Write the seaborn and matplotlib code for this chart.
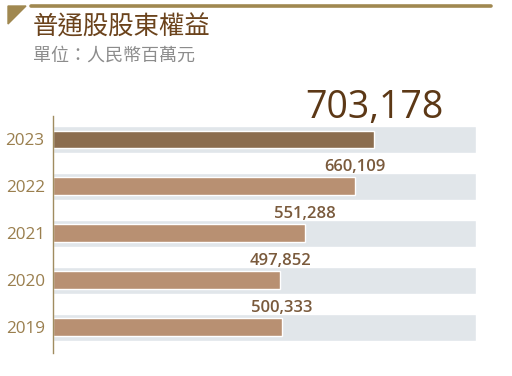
import matplotlib
matplotlib.use('Agg')
import matplotlib.pyplot as plt
from matplotlib.patches import Polygon
from matplotlib.lines import Line2D
import pandas as pd
import seaborn as sns

# data
years = ['2023', '2022', '2021', '2020', '2019']
equity = [703178, 660109, 551288, 497852, 500333]
title = '普通股股東權益'
subtitle = '單位：人民幣百萬元'
x_max = 926000

sns.set_theme(style='white')
plt.rcParams['font.family'] = ['Open Sans', 'Noto Sans CJK TC', 'DejaVu Sans']

df = pd.DataFrame({'year': years, 'value': equity, 'full': [x_max] * len(years)})

fig = plt.figure(figsize=(5.12, 3.76), dpi=100)
ax = fig.add_axes([53 / 512, 23 / 376, 423 / 512, 237 / 376])

# grey background bands
sns.barplot(data=df, x='full', y='year', order=years, color='#e1e6ea',
            width=0.58, saturation=1, ax=ax)
# value bars
pal = {y: ('#8b6d4f' if i == 0 else '#b89072') for i, y in enumerate(years)}
sns.barplot(data=df, x='value', y='year', order=years, hue='year', palette=pal,
            width=0.38, saturation=1, legend=False, ax=ax)

ax.set_xlim(0, x_max)
ax.set_ylim(4.55, -0.5)
ax.set_xlabel('')
ax.set_ylabel('')
ax.set_xticks([])
for s in ['top', 'right', 'bottom']:
    ax.spines[s].set_visible(False)
ax.spines['left'].set_color('#a08c60')
ax.spines['left'].set_linewidth(1)
ax.tick_params(axis='y', length=0, pad=6, labelsize=12.3, labelcolor='#9a7f4e')

# value labels
for i, v in enumerate(equity):
    if i == 0:
        ax.text(v, i - 0.45, f'{v:,}', ha='center', va='baseline', fontsize=27,
                color='#5c3816', clip_on=False)
    else:
        ax.text(v, i - 0.33, f'{v:,}', ha='center', va='baseline', fontsize=12,
                fontweight='semibold', color='#7a5a3c', clip_on=False)

# header
fig.add_artist(Line2D([31 / 512, 491 / 512], [1 - 5.5 / 376, 1 - 5.5 / 376],
                      color='#a08850', lw=2.6, transform=fig.transFigure))
fig.add_artist(Polygon([(8 / 512, 1 - 6 / 376), (26 / 512, 1 - 6 / 376), (8 / 512, 1 - 24 / 376)],
                       closed=True, color='#a08850', transform=fig.transFigure))
fig.text(33 / 512, 1 - 27 / 376, title, fontsize=18.3, color='#6b431c',
         va='center', ha='left', family=['Noto Sans CJK TC'])
fig.text(33 / 512, 1 - 56 / 376, subtitle, fontsize=13, color='#8c8c8c',
         va='center', ha='left', family=['Noto Sans CJK TC'])

fig.savefig('out.png', dpi=100)
